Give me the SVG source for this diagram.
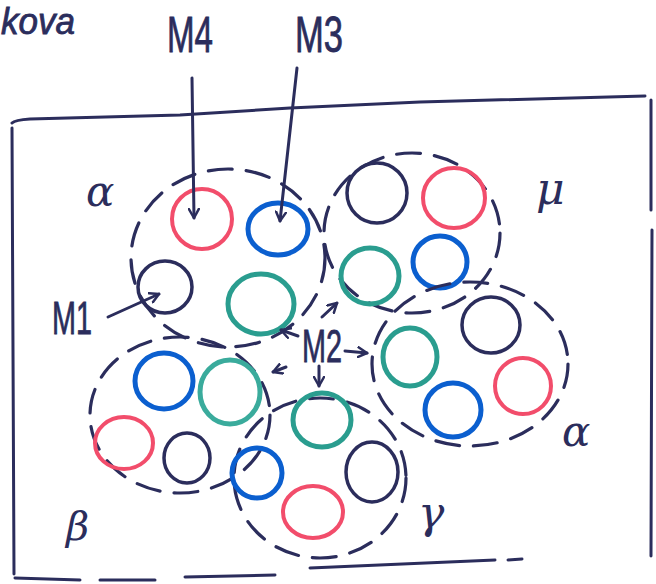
<svg xmlns="http://www.w3.org/2000/svg" width="656" height="584" viewBox="0 0 656 584">
<defs>
<style>
.ink{fill:none;stroke:#2b2d5c;stroke-width:3;stroke-linecap:round;stroke-linejoin:round}
.dash{fill:none;stroke:#2b2d5c;stroke-width:3.2;stroke-dasharray:24 14;stroke-linecap:round}
.navy{fill:none;stroke:#2b2d5c;stroke-width:3.5}
.red{fill:none;stroke:#f24d6b;stroke-width:4}
.blue{fill:none;stroke:#0b5fcf;stroke-width:5}
.teal{fill:none;stroke:#2a9d8f;stroke-width:5}
.lbl{fill:#2b2d5c;font-family:"Liberation Sans",Arial,sans-serif;stroke:#2b2d5c;stroke-width:0.8}
.greek{fill:#2b2d5c;font-family:"DejaVu Serif","Liberation Serif",serif;font-style:italic}
</style>
<marker id="ah" viewBox="0 0 12 12" refX="10" refY="6" markerWidth="12" markerHeight="12" markerUnits="userSpaceOnUse" orient="auto">
<path d="M1,1 L10,6 L1,11" fill="none" stroke="#2b2d5c" stroke-width="2.5" stroke-linecap="round" stroke-linejoin="round"/>
</marker>
</defs>
<rect width="656" height="584" fill="#ffffff"/>

<g id="frame" class="ink">
<path d="M12,123 Q15,120 30,119 L180,115 L290,108 L420,102 L645,96"/>
<path d="M12,128 L14,574"/>
<path d="M15,578 L80,580 M100,580 L155,580 M185,577 L275,575 M310,568 L495,560 M508,560 L522,559"/>
<path d="M651,100 L651,210 M652,230 L651,556"/>
</g>

<g id="labels">
<text class="lbl" x="1" y="34" font-size="36" font-style="italic" textLength="74" lengthAdjust="spacingAndGlyphs">kova</text>
<text class="lbl" x="167" y="52" font-size="50" textLength="46" lengthAdjust="spacingAndGlyphs">M4</text>
<text class="lbl" x="295" y="52" font-size="50" textLength="48" lengthAdjust="spacingAndGlyphs">M3</text>
<text class="lbl" x="52" y="334" font-size="46" textLength="40" lengthAdjust="spacingAndGlyphs">M1</text>
<text class="lbl" x="302" y="362" font-size="46" textLength="40" lengthAdjust="spacingAndGlyphs">M2</text>
<text class="greek" x="86" y="206" font-size="42">α</text>
<text class="greek" x="536" y="204" font-size="44">μ</text>
<text class="greek" x="562" y="446" font-size="42">α</text>
<text class="greek" x="66" y="540" font-size="40">β</text>
<text class="greek" x="418" y="528" font-size="44">γ</text>
</g>

<g id="cluster-alpha-top">
<ellipse class="dash" cx="228" cy="258" rx="97" ry="89"/>
<ellipse class="red" cx="202" cy="219" rx="30" ry="30"/>
<ellipse class="blue" cx="278" cy="229" rx="30" ry="26"/>
<ellipse class="navy" cx="165" cy="287" rx="27" ry="26"/>
<ellipse class="teal" cx="261" cy="304" rx="33" ry="30"/>
</g>

<g id="cluster-mu">
<ellipse class="dash" cx="412" cy="233" rx="88" ry="80"/>
<ellipse class="navy" cx="377" cy="193" rx="30" ry="30"/>
<ellipse class="red" cx="454" cy="198" rx="31" ry="30"/>
<ellipse class="teal" cx="370" cy="276" rx="29" ry="28"/>
<ellipse class="blue" cx="440" cy="262" rx="27" ry="26"/>
</g>

<g id="cluster-alpha-right">
<ellipse class="dash" cx="470" cy="364" rx="98" ry="82"/>
<ellipse class="navy" cx="491" cy="325" rx="29" ry="28"/>
<ellipse class="teal" cx="410" cy="357" rx="27" ry="29"/>
<ellipse class="red" cx="523" cy="386" rx="28" ry="28"/>
<ellipse class="blue" cx="453" cy="410" rx="28" ry="27"/>
</g>

<g id="cluster-beta">
<ellipse class="dash" cx="180" cy="415" rx="90" ry="78"/>
<ellipse class="blue" cx="164" cy="381" rx="29" ry="28"/>
<ellipse class="teal" cx="230" cy="392" rx="30" ry="32" style="stroke:#3aab9c"/>
<ellipse class="red" cx="124" cy="443" rx="29" ry="26"/>
<ellipse class="navy" cx="187" cy="458" rx="23" ry="25"/>
</g>

<g id="cluster-gamma">
<ellipse class="dash" cx="320" cy="478" rx="86" ry="80"/>
<ellipse class="teal" cx="322" cy="420" rx="29" ry="27"/>
<ellipse class="blue" cx="257" cy="473" rx="25" ry="25"/>
<ellipse class="navy" cx="372" cy="472" rx="26" ry="30"/>
<ellipse class="red" cx="313" cy="512" rx="30" ry="26"/>
</g>

<g id="connectors" class="ink">
<path d="M192,78 L194,218" marker-end="url(#ah)"/>
<path d="M297,68 L280,221" marker-end="url(#ah)"/>
<path d="M108,317 L159,294" marker-end="url(#ah)"/>
<path d="M322,317 L337,303" marker-end="url(#ah)"/>
<path d="M298,336 L281,330" marker-end="url(#ah)"/>
<path d="M286,367 L273,372" marker-end="url(#ah)"/>
<path d="M345,351 L367,353" marker-end="url(#ah)"/>
<path d="M319,366 L319,386" marker-end="url(#ah)"/>
</g>
</svg>
